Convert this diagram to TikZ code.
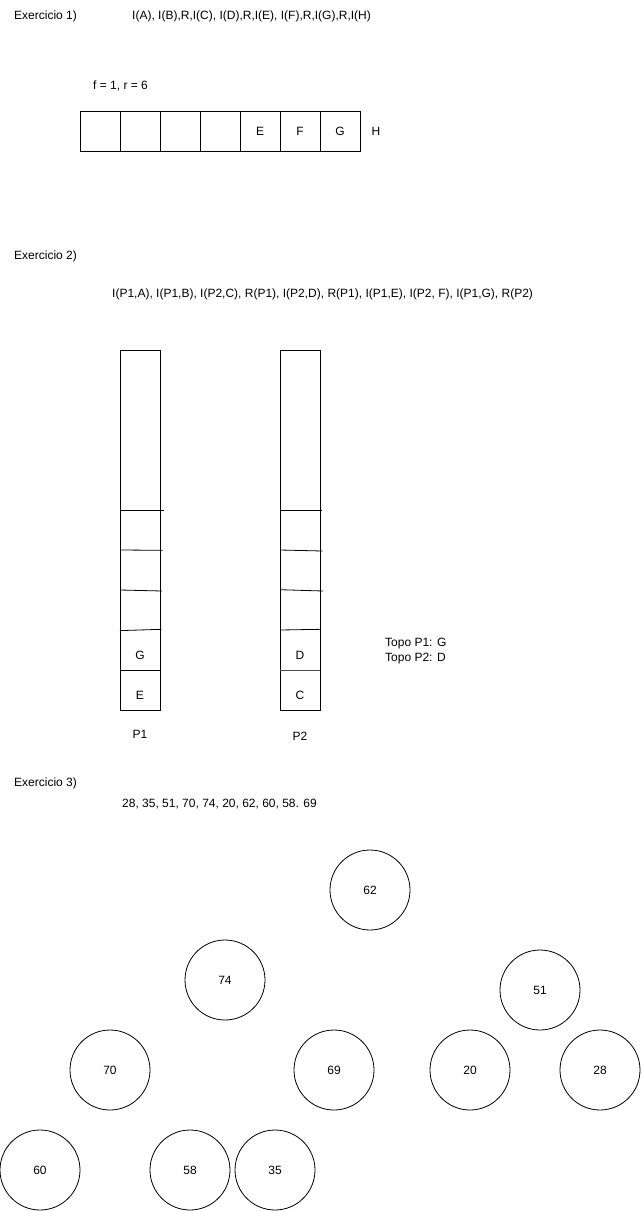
\documentclass[tikz,border=0pt]{standalone}
\usepackage{fontspec}
\setmainfont{Liberation Sans}
\usetikzlibrary{positioning}

\begin{document}
\begin{tikzpicture}[
    x=1pt, y=-1pt,
    lbl/.style={anchor=west,inner sep=0pt,font=\fontsize{12}{15}\selectfont},
    txt/.style={inner sep=0pt,font=\fontsize{12}{15}\selectfont},
    cell/.style={rectangle,draw,line width=0.8pt,minimum width=40pt,minimum height=40pt,inner sep=0pt,font=\fontsize{12}{15}\selectfont},
    stk/.style={rectangle,draw,line width=0.8pt,minimum width=40pt,minimum height=360pt,inner sep=0pt},
    bin/.style={circle,draw,line width=0.8pt,minimum size=80pt,inner sep=0pt,font=\fontsize{12}{15}\selectfont}
  ]
  \useasboundingbox (0,0) rectangle (641,1211);

  % Exercicio 1
  \node[lbl] (ex1) at (14,16) {Exercicio 1)};
  \node[lbl] (seq1) at (132,16) {I(A), I(B),R,I(C), I(D),R,I(E), I(F),R,I(G),R,I(H)};
  \node[lbl] (fr) at (93,86) {f = 1, r = 6};
  \foreach \i/\t in {1/,2/,3/,4/,5/E,6/F,7/G}
    \node[cell] (q\i) at (60+40*\i,131) {\t};
  \node[txt] (qh) at (376,131) {H};

  % Exercicio 2
  \node[lbl] (ex2) at (14,256) {Exercicio 2)};
  \node[lbl] (seq2) at (112,294) {I(P1,A), I(P1,B), I(P2,C), R(P1), I(P2,D), R(P1), I(P1,E), I(P2, F), I(P1,G), R(P2)};

  \node[stk] (pilha1) at (140,530) {};
  \draw[line width=0.8pt] (120,510) -- (164,510);
  \draw[line width=0.8pt] (120,550) -- (162.5,550.3);
  \draw[line width=0.8pt] (120,590) -- (162,591);
  \draw[line width=0.8pt] (120,630.6) -- (161.5,629.3);
  \draw[line width=0.8pt] (120,670) -- (160,670);
  \node[txt] (g1) at (140,655) {G};
  \node[txt] (e1) at (140,695) {E};
  \node[txt] (lp1) at (140,734) {P1};

  \node[stk] (pilha2) at (300,530) {};
  \draw[line width=0.8pt] (280,510) -- (321.7,510);
  \draw[line width=0.8pt] (280,550) -- (322.7,551);
  \draw[line width=0.8pt] (280,589.7) -- (323,591);
  \draw[line width=0.8pt] (280,630) -- (321,629.3);
  \draw[line width=1pt,black!70] (280,670) -- (320,670);
  \node[txt] (d2) at (300,655) {D};
  \node[txt] (c2) at (300,695) {C};
  \node[txt] (lp2) at (300,736) {P2};

  \node[lbl,align=left] (topo) at (385,651) {Topo P1: G\\Topo P2: D};

  % Exercicio 3
  \node[lbl] (ex3) at (14,783) {Exercicio 3)};
  \node[lbl] (seq3) at (122,804) {28, 35, 51, 70, 74, 20, 62, 60, 58. 69};

  \node[bin] (n62) at (370,890) {62};
  \node[bin] (n74) at (225,980) {74};
  \node[bin] (n51) at (540,990) {51};
  \node[bin] (n70) at (110,1070) {70};
  \node[bin] (n69) at (334,1070) {69};
  \node[bin] (n20) at (470,1070) {20};
  \node[bin] (n28) at (600,1070) {28};
  \node[bin] (n60) at (40,1170) {60};
  \node[bin] (n58) at (190,1170) {58};
  \node[bin] (n35) at (275,1170) {35};
\end{tikzpicture}
\end{document}
